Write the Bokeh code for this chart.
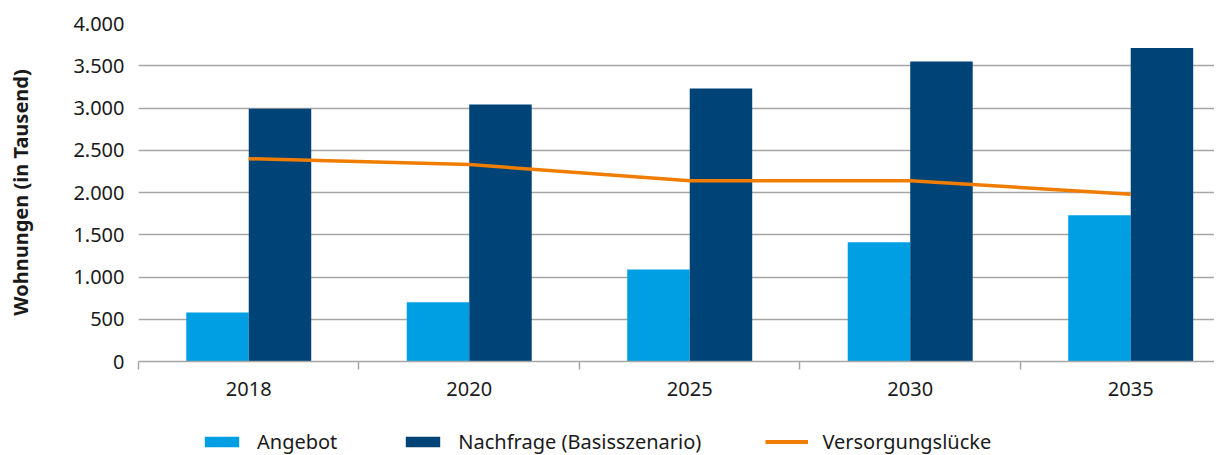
from bokeh.plotting import figure
from bokeh.models import Range1d, FixedTicker, Legend, LegendItem, ColumnDataSource
from bokeh.layouts import column
from bokeh.embed import file_html
from bokeh.resources import INLINE

years = ["2018", "2020", "2025", "2030", "2035"]
angebot = [580, 700, 1090, 1410, 1730]
nachfrage = [2990, 3040, 3230, 3550, 3710]
luecke = [2400, 2330, 2140, 2140, 1980]
y_ticks = [0, 500, 1000, 1500, 2000, 2500, 3000, 3500, 4000]
y_tick_labels = ["0", "500", "1.000", "1.500", "2.000", "2.500", "3.000", "3.500", "4.000"]

C_LIGHT = "#009fe3"
C_DARK = "#004376"
C_ORANGE = "#f07d00"
GRID = "#a6a6a6"
TXT = "#1a1a1a"
FONT = "Noto Sans"
FS = "20px"

centers = [i + 0.5 for i in range(len(years))]
bw = 0.2834
src = ColumnDataSource(dict(
    xa=[c - bw / 2 for c in centers],
    xn=[c + bw / 2 for c in centers],
    xc=centers,
    angebot=angebot,
    nachfrage=nachfrage,
    luecke=luecke,
))

p = figure(width=1214, height=400, output_backend="svg", toolbar_location=None,
           x_range=Range1d(0, 4.88), y_range=Range1d(0, 4000),
           min_border_left=138, min_border_right=0, min_border_top=23, min_border_bottom=39)
p.outline_line_color = None
p.background_fill_color = "white"

r1 = p.vbar(x="xa", width=bw, top="angebot", bottom=0, source=src,
            fill_color=C_LIGHT, line_color=None)
r2 = p.vbar(x="xn", width=bw, top="nachfrage", bottom=0, source=src,
            fill_color=C_DARK, line_color=None)
r3 = p.line(x="xc", y="luecke", source=src, line_color=C_ORANGE, line_width=3.5)

# grid
p.xgrid.visible = False
p.ygrid.ticker = FixedTicker(ticks=y_ticks[1:])
p.ygrid.grid_line_color = GRID
p.ygrid.grid_line_width = 1.5

# y axis
ya = p.yaxis[0]
ya.ticker = FixedTicker(ticks=y_ticks)
ya.major_label_overrides = {t: l for t, l in zip(y_ticks, y_tick_labels)}
ya.axis_line_color = None
ya.major_tick_line_color = None
ya.minor_tick_line_color = None
ya.major_label_standoff = 8
ya.major_label_text_font = FONT
ya.major_label_text_font_size = FS
ya.major_label_text_color = TXT
ya.axis_label = "Wohnungen (in Tausend)"
ya.axis_label_text_font = FONT
ya.axis_label_text_font_style = "bold"
ya.axis_label_text_font_size = "20px"
ya.axis_label_text_color = TXT
ya.axis_label_standoff = 36

# x axis
xa = p.xaxis[0]
xa.ticker = FixedTicker(ticks=centers, minor_ticks=list(range(len(years) + 1)))
xa.major_label_overrides = {c: y for c, y in zip(centers, years)}
xa.axis_line_color = GRID
xa.axis_line_width = 1.5
xa.major_tick_line_color = None
xa.major_tick_out = 0
xa.major_tick_in = 0
xa.minor_tick_line_color = GRID
xa.minor_tick_line_width = 1.5
xa.minor_tick_out = 8
xa.minor_tick_in = 0
xa.major_label_standoff = 12
xa.major_label_text_font = FONT
xa.major_label_text_font_size = FS
xa.major_label_text_color = TXT

# legend strip: hidden renderers of the same series, shown only as legend entries
lg = figure(width=1214, height=55, output_backend="svg", toolbar_location=None,
            x_range=Range1d(0, 1), y_range=Range1d(0, 1),
            min_border=0, x_axis_type=None, y_axis_type=None)
lg.outline_line_color = None
lg.grid.visible = False
l1 = lg.vbar(x="xa", top="angebot", width=bw, source=src, fill_color=C_LIGHT,
             line_color=None, visible=False)
l2 = lg.vbar(x="xn", top="nachfrage", width=bw, source=src, fill_color=C_DARK,
             line_color=None, visible=False)
l3 = lg.line(x="xc", y="luecke", source=src, line_color=C_ORANGE, line_width=4,
             visible=False)

legend = Legend(items=[
    LegendItem(label="Angebot", renderers=[l1]),
    LegendItem(label="Nachfrage (Basisszenario)", renderers=[l2]),
    LegendItem(label="Versorgungslücke", renderers=[l3]),
], orientation="horizontal", location=(62, 0), glyph_width=43, glyph_height=13,
    label_standoff=14, spacing=64, padding=0, margin=0,
    label_text_font=FONT, label_text_font_size=FS, label_text_color=TXT,
    border_line_color=None, background_fill_alpha=0, inactive_fill_alpha=0)
lg.add_layout(legend)

layout = column(p, lg, spacing=0)
open("out.html", "w").write(file_html(layout, INLINE))
